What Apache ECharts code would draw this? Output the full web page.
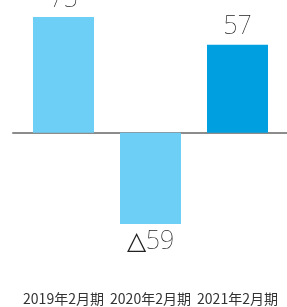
<!DOCTYPE html>
<html>
<head>
<meta charset="utf-8">
<script src="https://cdn.jsdelivr.net/npm/echarts@6/dist/echarts.min.js"></script>
<style>
  html, body { margin: 0; padding: 0; background: #fff; }
  #chart { width: 287px; height: 307px; }
</style>
</head>
<body>
<div id="chart"></div>
<script>
var categories = ['2019年2月期', '2020年2月期', '2021年2月期']
var values = [75, -59, 57]
var barColors = ['#6dcff6', '#6dcff6', '#00a0e0']

var chart = echarts.init(document.getElementById('chart'), null, { renderer: 'canvas' })

var option = {
  animation: false,
  grid: [
    { left: 20, right: 6, top: 17, height: 207 },
    // only used for the zero line, which runs wider than the bars
    { left: 13, right: 0, top: 17, height: 207 }
  ],
  xAxis: [
    {
      type: 'category',
      gridIndex: 0,
      data: categories,
      position: 'bottom',
      axisLine: { show: false, onZero: false },
      axisTick: { show: false },
      axisLabel: {
        interval: 0,
        hideOverlap: false,
        margin: 68,
        fontSize: 14,
        color: '#333',
        fontFamily: '"Noto Sans CJK JP", sans-serif'
      }
    },
    {
      type: 'value',
      gridIndex: 1,
      min: 0,
      max: 1,
      axisLine: { show: true, onZero: true, lineStyle: { color: '#8c8c8c', width: 2 } },
      axisTick: { show: false },
      axisLabel: { show: false },
      splitLine: { show: false }
    }
  ],
  yAxis: [
    { type: 'value', gridIndex: 0, min: -59, max: 75, show: false },
    { type: 'value', gridIndex: 1, min: -59, max: 75, show: false }
  ],
  series: [
    {
      type: 'bar',
      xAxisIndex: 0,
      yAxisIndex: 0,
      barWidth: 61,
      data: values.map(function (v, i) {
        return {
          value: v,
          itemStyle: { color: barColors[i] },
          label: { position: v < 0 ? 'bottom' : 'top' }
        }
      }),
      label: {
        show: true,
        distance: 5,
        fontSize: 25,
        fontWeight: 'lighter',
        color: '#222',
        fontFamily: '"Noto Sans", sans-serif',
        formatter: function (p) {
          return p.value < 0 ? '△' + Math.abs(p.value) : String(p.value)
        }
      }
    }
  ]
}
chart.setOption(option)
</script>
</body>
</html>
